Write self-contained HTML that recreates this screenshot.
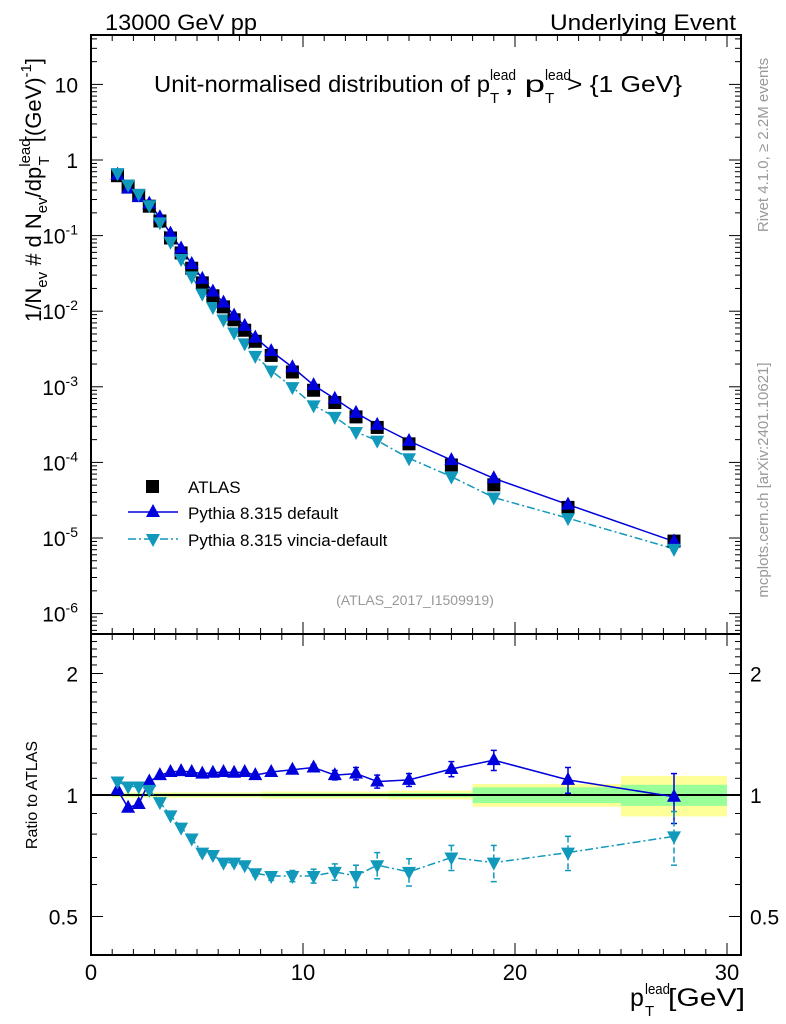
<!DOCTYPE html>
<html><head><meta charset="utf-8"><style>
html,body{margin:0;padding:0;background:#fff}
svg{display:block;font-family:"Liberation Sans",sans-serif}
</style></head><body>
<svg id="c" width="786" height="1024" viewBox="0 0 786 1024" xmlns="http://www.w3.org/2000/svg">
<text x="105" y="30" font-size="22" textLength="152" lengthAdjust="spacingAndGlyphs">13000 GeV pp</text>
<text x="736" y="30" font-size="22" text-anchor="end" textLength="186" lengthAdjust="spacingAndGlyphs">Underlying Event</text>
<g>
<text x="154" y="92" font-size="23" textLength="336" lengthAdjust="spacingAndGlyphs">Unit-normalised distribution of p</text>
<text x="490" y="80" font-size="15" textLength="26" lengthAdjust="spacingAndGlyphs">lead</text>
<text x="490" y="103" font-size="15">T</text>
<text x="504" y="92" font-size="23" textLength="41" lengthAdjust="spacingAndGlyphs">, p</text>
<text x="545" y="80" font-size="15" textLength="26" lengthAdjust="spacingAndGlyphs">lead</text>
<text x="545" y="103" font-size="15">T</text>
<text x="567" y="92" font-size="23" textLength="115" lengthAdjust="spacingAndGlyphs">&gt; {1 GeV}</text>
</g>
<text transform="translate(768,145) rotate(-90)" font-size="15" fill="#999" text-anchor="middle">Rivet 4.1.0, ≥ 2.2M events</text>
<text transform="translate(768,480) rotate(-90)" font-size="15" fill="#999" text-anchor="middle">mcplots.cern.ch [arXiv:2401.10621]</text>
<text transform="translate(41,322) rotate(-90)" font-size="22" text-anchor="start">1/N<tspan font-size="15" dy="6">ev</tspan><tspan dy="-6"> # d N</tspan><tspan font-size="15" dy="6">ev</tspan><tspan dy="-6">/dp</tspan><tspan font-size="15" dy="-11">lead</tspan><tspan font-size="15" dx="-27" dy="19">T</tspan><tspan dx="14" dy="-8">[(GeV)</tspan><tspan font-size="15" dy="-10">-1</tspan><tspan dy="10">]</tspan></text>
<text transform="translate(37,795) rotate(-90)" font-size="16" text-anchor="middle">Ratio to ATLAS</text>
<text x="415" y="605" font-size="14" fill="#999" text-anchor="middle">(ATLAS_2017_I1509919)</text>
<g>
<text x="630" y="1006" font-size="25">p</text>
<text x="645" y="994" font-size="15" textLength="25" lengthAdjust="spacingAndGlyphs">lead</text>
<text x="645" y="1016" font-size="15">T</text>
<text x="668" y="1006" font-size="25" textLength="77" lengthAdjust="spacingAndGlyphs">[GeV]</text>
</g>
<g id="g"></g>
</svg>
<script>
const xs=[1.25,1.75,2.25,2.75,3.25,3.75,4.25,4.75,5.25,5.75,6.25,6.75,7.25,7.75,8.5,9.5,10.5,11.5,12.5,13.5,15,17,19,22.5,27.5];
const atlasVals=[0.62,0.45,0.34,0.245,0.156,0.093,0.059,0.037,0.0237,0.016,0.0114,0.0077,0.0056,0.0040,0.0026,0.00157,0.00090,0.00062,0.00040,0.00029,0.000176,0.0000925,0.0000505,0.0000254,0.0000091];
const defRatio=[1.03,0.93,0.95,1.08,1.12,1.14,1.146,1.14,1.13,1.135,1.14,1.135,1.14,1.12,1.14,1.155,1.17,1.12,1.13,1.08,1.09,1.16,1.22,1.09,0.99];
const defErr=[0.01,0.01,0.01,0.01,0.01,0.01,0.01,0.01,0.01,0.01,0.01,0.01,0.01,0.01,0.01,0.015,0.02,0.03,0.04,0.04,0.04,0.05,0.07,0.08,0.14];
const vinRatio=[1.08,1.05,1.05,1.03,0.96,0.89,0.83,0.78,0.72,0.71,0.68,0.68,0.67,0.64,0.63,0.63,0.63,0.645,0.63,0.67,0.645,0.70,0.68,0.72,0.79];
const vinErr=[0.01,0.01,0.01,0.01,0.01,0.01,0.01,0.01,0.01,0.01,0.01,0.01,0.01,0.01,0.015,0.02,0.025,0.03,0.04,0.05,0.05,0.05,0.07,0.07,0.12];
const bandEdges=[1,8,14,18,25,30];
const bandYellow=[0.015,0.02,0.025,0.065,0.115];
const bandGreen=[0.008,0.01,0.012,0.045,0.06];
const mainTicks=[10,1,0.1,0.01,0.001,1e-4,1e-5,1e-6];
const mainTickLabels=["10","1","10<sup>-1</sup>","10<sup>-2</sup>","10<sup>-3</sup>","10<sup>-4</sup>","10<sup>-5</sup>","10<sup>-6</sup>"];
const ratioTicks=[2,1,0.5];
const ratioTickLabels=["2","1","0.5"];
const xTicks=[0,10,20,30];

const L=91,R=741,T=35,MB=634,RB=955;
const X=v=>L+21.2*v;
const Y=v=>160-75.6*Math.log10(v);
const YR=v=>795-403.6*Math.log10(v);
const NS="http://www.w3.org/2000/svg";
const g=document.getElementById('g');
function mk(tag,attrs,parent){const e=document.createElementNS(NS,tag);for(const k in attrs)e.setAttribute(k,attrs[k]);(parent||g).appendChild(e);return e;}
function tx(x,y,s,anchor,size){const e=mk('text',{x:x,y:y,'font-size':size||20,'text-anchor':anchor||'end'});
 const m=s.match(/^(.*)<sup>(.*)<\/sup>$/);
 if(m){e.textContent=m[1];const t=document.createElementNS(NS,'tspan');t.setAttribute('dy','-9');t.setAttribute('font-size','14');t.textContent=m[2];e.appendChild(t);} else e.textContent=s;return e;}

for(let i=0;i<bandYellow.length;i++){
 const b=mk('rect',{x:X(bandEdges[i]),y:YR(1+bandYellow[i]),width:X(bandEdges[i+1])-X(bandEdges[i]),height:YR(1-bandYellow[i])-YR(1+bandYellow[i]),fill:'#ffff99'});
 
 
 const gr=mk('rect',{x:X(bandEdges[i]),y:YR(1+bandGreen[i]),width:X(bandEdges[i+1])-X(bandEdges[i]),height:YR(1-bandGreen[i])-YR(1+bandGreen[i]),fill:'#99ff99'});
 
 
}
mk('line',{x1:L,x2:R,y1:YR(1),y2:YR(1),stroke:'#000','stroke-width':2});

const f1=mk('rect',{x:L,y:T,width:R-L,height:MB-T,fill:'none',stroke:'#000','stroke-width':2});


const f2=mk('rect',{x:L,y:MB,width:R-L,height:RB-MB,fill:'none',stroke:'#000','stroke-width':2});



for(let v=0;v<=30;v++){const major=v%10==0;const l=major?12:6;const x=X(v);
 [[T,1],[MB,-1],[MB,1],[RB,-1]].forEach(([y0,d])=>mk('line',{x1:x,x2:x,y1:y0,y2:y0+d*l,stroke:'#000','stroke-width':1}));}
xTicks.forEach(v=>{const t=tx(X(v),980,String(v),'middle',22);});

for(let e=-7;e<=1;e++)for(let k=1;k<=9;k++){const v=k*Math.pow(10,e);const y=Y(v);if(y<T||y>MB)continue;const l=k==1?12:6;
 mk('line',{x1:L,x2:L+l,y1:y,y2:y,stroke:'#000'});mk('line',{x1:R,x2:R-l,y1:y,y2:y,stroke:'#000'});}
mainTicks.forEach((v,i)=>{const t=tx(78,Y(v)+8,mainTickLabels[i],'end',21);});

for(let k=4;k<=25;k++){const v=k/10;const y=YR(v);if(y<MB||y>RB)continue;const l=(v==0.5||v==1||v==2)?12:6;
 mk('line',{x1:L,x2:L+l,y1:y,y2:y,stroke:'#000'});mk('line',{x1:R,x2:R-l,y1:y,y2:y,stroke:'#000'});}
ratioTicks.forEach((v,i)=>{const a=tx(78,YR(v)+8,ratioTickLabels[i],'end',21);
 const b=tx(750,YR(v)+8,ratioTickLabels[i],'start',21);});

function tri(x,y,up){const s=7;return up?`${x-s},${y+5} ${x+s},${y+5} ${x},${y-8}`:`${x-s},${y-5} ${x+s},${y-5} ${x},${y+8}`;}
const defVals=atlasVals.map((v,i)=>v*defRatio[i]);
const vinVals=atlasVals.map((v,i)=>v*vinRatio[i]);
const BLUE='#0000dd',CYAN='#1199bb';

const dl=mk('polyline',{points:xs.map((x,i)=>X(x)+','+Y(defVals[i])).join(' '),fill:'none',stroke:BLUE,'stroke-width':1.5});


const vl=mk('polyline',{points:xs.map((x,i)=>X(x)+','+Y(vinVals[i])).join(' '),fill:'none',stroke:CYAN,'stroke-width':1.5,'stroke-dasharray':'8,3,2,3'});


xs.forEach((x,i)=>{
 const s=mk('rect',{x:X(x)-6.5,y:Y(atlasVals[i])-6.5,width:13,height:13,fill:'#000'});
 
 
 const a=mk('polygon',{points:tri(X(x),Y(defVals[i]),true),fill:BLUE});
 
 
 const b=mk('polygon',{points:tri(X(x),Y(vinVals[i]),false),fill:CYAN});
 
 
});

const rdl=mk('polyline',{points:xs.map((x,i)=>X(x)+','+YR(defRatio[i])).join(' '),fill:'none',stroke:BLUE,'stroke-width':1.5});


const rvl=mk('polyline',{points:xs.map((x,i)=>X(x)+','+YR(vinRatio[i])).join(' '),fill:'none',stroke:CYAN,'stroke-width':1.5,'stroke-dasharray':'8,3,2,3'});


function err(x,v,e,col,dash){const y1=YR(v+e),y2=YR(v-e);
 mk('line',{x1:x,x2:x,y1:y1,y2:y2,stroke:col,'stroke-width':1.5,'stroke-dasharray':dash||'none'});
 mk('line',{x1:x-3,x2:x+3,y1:y1,y2:y1,stroke:col,'stroke-width':1.5});
 mk('line',{x1:x-3,x2:x+3,y1:y2,y2:y2,stroke:col,'stroke-width':1.5});}
xs.forEach((x,i)=>{
 err(X(x),defRatio[i],defErr[i],BLUE);
 err(X(x),vinRatio[i],vinErr[i],CYAN,'6,3');
 const a=mk('polygon',{points:tri(X(x),YR(defRatio[i]),true),fill:BLUE});
 
 
 const b=mk('polygon',{points:tri(X(x),YR(vinRatio[i]),false),fill:CYAN});
 
 
});

const lg=mk('g',{});


mk('rect',{x:146,y:480,width:13,height:13,fill:'#000'},lg);
mk('line',{x1:128,x2:178,y1:512,y2:512,stroke:BLUE,'stroke-width':1.5},lg);
mk('polygon',{points:tri(153,512,true),fill:BLUE},lg);
mk('line',{x1:128,x2:178,y1:539,y2:539,stroke:CYAN,'stroke-width':1.5,'stroke-dasharray':'8,3,2,3'},lg);
mk('polygon',{points:tri(153,539,false),fill:CYAN},lg);
[['ATLAS',493],['Pythia 8.315 default',519],['Pythia 8.315 vincia-default',546]].forEach(([s,y])=>{const t=mk('text',{x:188,y:y,'font-size':17},lg);t.textContent=s;});
</script>
</body></html>
